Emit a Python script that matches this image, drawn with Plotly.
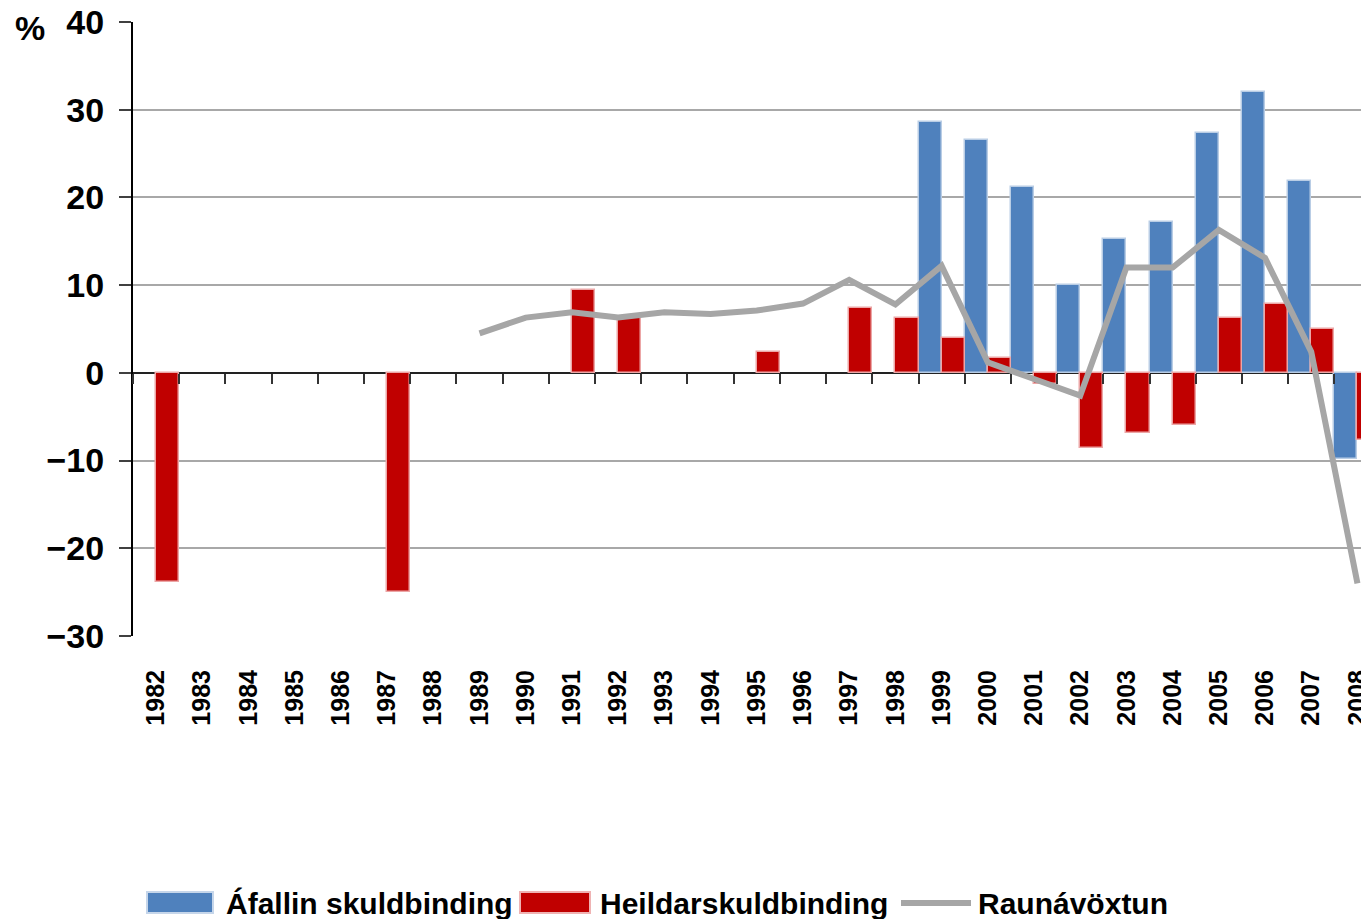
import plotly.graph_objects as go

years = [str(y) for y in range(1982, 2009)]

# Áfallin skuldbinding (blue bars), % per year
afallin = [None]*17 + [28.6, 26.5, 21.2, 10.0, 15.3, 17.2, 27.4, 32.0, 21.9, -9.8]
# Heildarskuldbinding (red bars)
heildar = [-23.8, None, None, None, None, -25.0, None, None, None, 9.5, 6.2, None, None,
           2.4, None, 7.4, 6.2, 4.0, 1.7, -1.3, -8.6, -6.9, -6.0, 6.2, 7.8, 5.0, -7.6]
# Raunávöxtun (grey line)
raun = [None]*7 + [4.5, 6.3, 6.9, 6.3, 6.9, 6.7, 7.1, 7.9, 10.6, 7.8, 12.2, 1.2, -0.7,
                   -2.6, 12.0, 12.0, 16.3, 13.1, 2.4, -24.0]

names = ["Áfallin skuldbinding", "Heildarskuldbinding", "Raunávöxtun"]
BLUE, RED, GREY = "#4f81bd", "#c00000", "#a6a6a6"
FONT = "Liberation Sans, Arial, sans-serif"

# the page body has an 8px margin, so the figure is sized to fit the window
W, H = 1361, 911
ML, MR, MT, MB = 125, 0, 14, 283
PW, PH = W - ML - MR, H - MT - MB
OFF = 8  # page offset


def px(x):  # window pixel -> paper x
    return (x - OFF - ML) / PW


def py(y):  # window pixel -> paper y
    return (H - MB - (y - OFF)) / PH


fig = go.Figure()
fig.add_trace(go.Bar(x=years, y=afallin, name=names[0],
                     marker=dict(color=BLUE, line=dict(color="#b9cde5", width=1.5)),
                     showlegend=False))
fig.add_trace(go.Bar(x=years, y=heildar, name=names[1],
                     marker=dict(color=RED, line=dict(color="#eca6a6", width=1.5)),
                     showlegend=False))
fig.add_trace(go.Scatter(x=years, y=raun, name=names[2], mode="lines", xaxis="x2",
                         line=dict(color=GREY, width=6), showlegend=False, connectgaps=False))

xr = [-0.5, 26.25]

# legend drawn as swatches + labels below the plot
shapes = [
    dict(type="rect", xref="paper", yref="paper", x0=px(147), x1=px(213), y0=py(913), y1=py(892),
         fillcolor=BLUE, line=dict(color="#c6d6ea", width=2), layer="above"),
    dict(type="rect", xref="paper", yref="paper", x0=px(520), x1=px(590), y0=py(913), y1=py(892),
         fillcolor=RED, line=dict(color="#efb3b3", width=2), layer="above"),
    dict(type="line", xref="paper", yref="paper", x0=px(901), x1=px(971), y0=py(903), y1=py(903),
         line=dict(color=GREY, width=6), layer="above"),
]
legend_texts = [(names[0], 224), (names[1], 598), (names[2], 976)]
annotations = [dict(text=nm, x=px(xx), y=py(903), xref="paper", yref="paper", showarrow=False,
                    xanchor="left", yanchor="middle",
                    font=dict(size=30, family=FONT, weight="bold", color="black"))
               for nm, xx in legend_texts]
annotations.append(dict(text="<b>%</b>", x=px(30), y=py(28), xref="paper", yref="paper",
                        showarrow=False, font=dict(size=34, family=FONT, color="black"),
                        xanchor="center", yanchor="middle"))

fig.update_layout(
    width=W, height=H,
    margin=dict(l=ML, r=MR, t=MT, b=MB, autoexpand=False),
    plot_bgcolor="white", paper_bgcolor="white",
    barmode="group", bargap=0, bargroupgap=0,
    font=dict(family=FONT, color="black"),
    showlegend=False,
    xaxis=dict(type="category", categoryorder="array", categoryarray=years, range=xr,
               tickangle=-90, ticks="", showgrid=False, showline=False, zeroline=False,
               automargin=False, ticklabeloverflow="allow",
               tickfont=dict(size=25, family=FONT, weight="bold"), ticklabelstandoff=28),
    xaxis2=dict(type="category", categoryorder="array", categoryarray=years, range=xr,
                overlaying="x", anchor="free", position=30/70, side="bottom", automargin=False,
                showticklabels=False, ticks="outside", tickson="boundaries", ticklen=10,
                tickwidth=2, tickcolor="#333333", showgrid=False, showline=False, zeroline=False),
    yaxis=dict(range=[-30, 40], dtick=10, tick0=0, ticks="outside", ticklen=12, tickwidth=2,
               tickcolor="#404040", showline=True, linecolor="black", linewidth=2,
               gridcolor="#a8a8a8", gridwidth=2, zeroline=True, zerolinecolor="#222222",
               zerolinewidth=2, automargin=False, ticklabeloverflow="allow",
               tickfont=dict(size=34, family=FONT, weight="bold"), ticklabelstandoff=8),
    shapes=shapes,
    annotations=annotations,
)

fig.write_html("out.html")
